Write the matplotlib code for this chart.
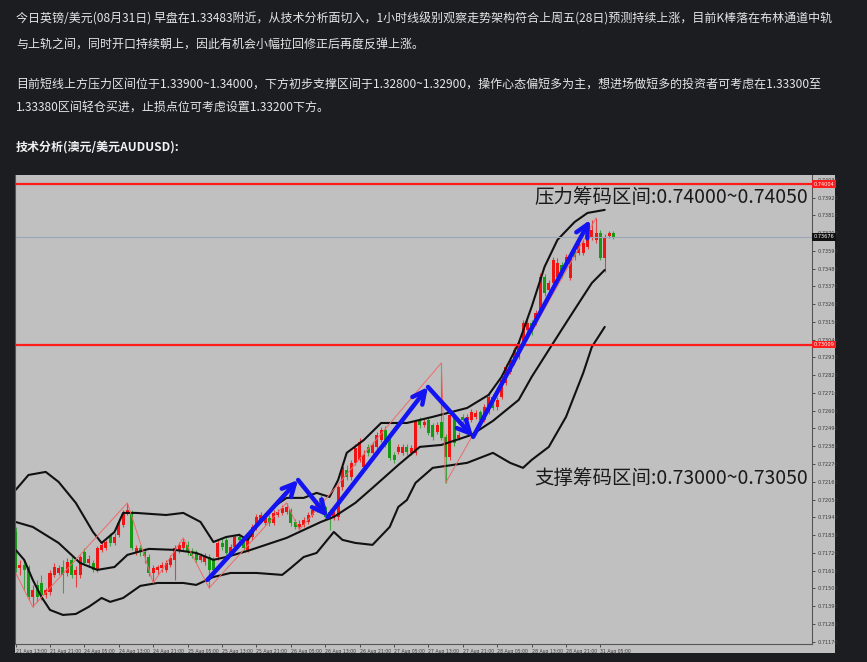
import matplotlib
matplotlib.use("Agg")
import matplotlib.pyplot as plt
import matplotlib.transforms as mtrans
import numpy as np

# page text above the screenshot
para_lines = [
    "今日英镑/美元(08月31日) 早盘在1.33483附近，从技术分析面切入，1小时线级别观察走势架构符合上周五(28日)预测持续上涨，目前K棒落在布林通道中轨",
    "与上轨之间，同时开口持续朝上，因此有机会小幅拉回修正后再度反弹上涨。",
    "目前短线上方压力区间位于1.33900~1.34000，下方初步支撑区间于1.32800~1.32900，操作心态偏短多为主，想进场做短多的投资者可考虑在1.33300至",
    "1.33380区间轻仓买进，止损点位可考虑设置1.33200下方。",
]
title_line = "技术分析(澳元/美元AUDUSD):"

# AUDUSD H1 candles, 21 Aug 13:00 -> 31 Aug
opens = [0.71849, 0.71626, 0.71645, 0.71632, 0.71447, 0.71521, 0.71533, 0.71459, 0.71478, 0.71583,
         0.71595, 0.71632, 0.71595, 0.71676, 0.71583, 0.71583, 0.71725, 0.71657, 0.71657, 0.71614,
         0.71738, 0.71750, 0.71831, 0.71781, 0.71831, 0.71893, 0.71967, 0.71973, 0.71719, 0.71750,
         0.71725, 0.71694, 0.71595, 0.71614, 0.71626, 0.71614, 0.71645, 0.71676, 0.71738, 0.71750,
         0.71769, 0.71725, 0.71719, 0.71676, 0.71663, 0.71694, 0.71676, 0.71694, 0.71781, 0.71800,
         0.71719, 0.71756, 0.71818, 0.71800, 0.71738, 0.71818, 0.71880, 0.71924, 0.71905, 0.71936,
         0.71905, 0.71954, 0.71967, 0.71973, 0.71985, 0.71911, 0.71880, 0.71893, 0.71911, 0.71954,
         0.71985, 0.72060, 0.72004, 0.71973, 0.71942, 0.71942, 0.72128, 0.72233, 0.72190, 0.72277,
         0.72295, 0.72252, 0.72376, 0.72339, 0.72376, 0.72419, 0.72481, 0.72431, 0.72326, 0.72345,
         0.72339, 0.72376, 0.72339, 0.72339, 0.72543, 0.72512, 0.72543, 0.72512, 0.72469, 0.72531,
         0.72438, 0.72314, 0.72562, 0.72431, 0.72562, 0.72543, 0.72543, 0.72562, 0.72592, 0.72543,
         0.72592, 0.72685, 0.72623, 0.72685, 0.72772, 0.72840, 0.72896, 0.72933, 0.73020, 0.73100,
         0.73144, 0.73144, 0.73224, 0.73429, 0.73348, 0.73391, 0.73429, 0.73503, 0.73515, 0.73422,
         0.73596, 0.73577, 0.73577, 0.73614, 0.73676, 0.73658, 0.73701, 0.73546, 0.73683, 0.73701]
closes = [0.71626, 0.71645, 0.71614, 0.71447, 0.71490, 0.71447, 0.71459, 0.71490, 0.71595, 0.71632,
          0.71626, 0.71583, 0.71663, 0.71583, 0.71614, 0.71694, 0.71657, 0.71682, 0.71614, 0.71750,
          0.71769, 0.71787, 0.71781, 0.71818, 0.71905, 0.71967, 0.71985, 0.71750, 0.71750, 0.71725,
          0.71701, 0.71595, 0.71626, 0.71632, 0.71645, 0.71657, 0.71688, 0.71750, 0.71769, 0.71787,
          0.71725, 0.71701, 0.71676, 0.71701, 0.71694, 0.71614, 0.71614, 0.71781, 0.71756, 0.71719,
          0.71756, 0.71818, 0.71800, 0.71750, 0.71818, 0.71880, 0.71942, 0.71954, 0.71936, 0.71905,
          0.71967, 0.71973, 0.71998, 0.72004, 0.71905, 0.71880, 0.71899, 0.71924, 0.71954, 0.71985,
          0.72016, 0.72004, 0.71942, 0.71942, 0.71973, 0.72128, 0.72252, 0.72190, 0.72277, 0.72369,
          0.72407, 0.72326, 0.72339, 0.72388, 0.72450, 0.72481, 0.72388, 0.72308, 0.72295, 0.72376,
          0.72376, 0.72345, 0.72369, 0.72531, 0.72512, 0.72531, 0.72462, 0.72438, 0.72512, 0.72431,
          0.72314, 0.72574, 0.72400, 0.72450, 0.72543, 0.72562, 0.72592, 0.72586, 0.72543, 0.72623,
          0.72685, 0.72617, 0.72667, 0.72791, 0.72871, 0.72915, 0.72977, 0.73020, 0.73144, 0.73144,
          0.73100, 0.73206, 0.73429, 0.73330, 0.73391, 0.73534, 0.73515, 0.73441, 0.73553, 0.73553,
          0.73553, 0.73658, 0.73639, 0.73676, 0.73720, 0.73701, 0.73546, 0.73676, 0.73701, 0.73676]
highs = [0.71880, 0.71676, 0.71676, 0.71645, 0.71521, 0.71552, 0.71583, 0.71502, 0.71614, 0.71657,
         0.71645, 0.71676, 0.71688, 0.71701, 0.71639, 0.71707, 0.71750, 0.71707, 0.71676, 0.71762,
         0.71787, 0.71800, 0.71843, 0.71843, 0.71924, 0.71985, 0.72029, 0.71985, 0.71769, 0.71769,
         0.71750, 0.71713, 0.71645, 0.71645, 0.71663, 0.71676, 0.71707, 0.71769, 0.71787, 0.71812,
         0.71793, 0.71750, 0.71738, 0.71719, 0.71719, 0.71713, 0.71694, 0.71800, 0.71812, 0.71818,
         0.71775, 0.71837, 0.71843, 0.71818, 0.71837, 0.71899, 0.71961, 0.71973, 0.71954, 0.71954,
         0.71985, 0.71992, 0.72016, 0.72029, 0.71998, 0.71930, 0.71924, 0.71942, 0.71973, 0.72004,
         0.72047, 0.72078, 0.72016, 0.71992, 0.71998, 0.72140, 0.72277, 0.72264, 0.72295, 0.72394,
         0.72431, 0.72357, 0.72394, 0.72407, 0.72469, 0.72500, 0.72506, 0.72456, 0.72345, 0.72394,
         0.72394, 0.72394, 0.72388, 0.72543, 0.72562, 0.72549, 0.72562, 0.72524, 0.72531, 0.72896,
         0.72456, 0.72592, 0.72580, 0.72469, 0.72580, 0.72580, 0.72611, 0.72605, 0.72605, 0.72642,
         0.72704, 0.72704, 0.72685, 0.72809, 0.72890, 0.72933, 0.72995, 0.73038, 0.73162, 0.73162,
         0.73162, 0.73224, 0.73453, 0.73447, 0.73410, 0.73553, 0.73546, 0.73522, 0.73571, 0.73571,
         0.73614, 0.73676, 0.73658, 0.73695, 0.73782, 0.73794, 0.73720, 0.73695, 0.73714, 0.73714]
lows = [0.71601, 0.71583, 0.71490, 0.71428, 0.71385, 0.71416, 0.71428, 0.71440, 0.71459, 0.71570,
        0.71583, 0.71471, 0.71577, 0.71564, 0.71509, 0.71564, 0.71645, 0.71639, 0.71601, 0.71601,
        0.71725, 0.71738, 0.71762, 0.71769, 0.71818, 0.71880, 0.71954, 0.71738, 0.71707, 0.71701,
        0.71657, 0.71577, 0.71533, 0.71589, 0.71601, 0.71601, 0.71632, 0.71552, 0.71719, 0.71738,
        0.71707, 0.71688, 0.71657, 0.71663, 0.71645, 0.71502, 0.71589, 0.71676, 0.71738, 0.71701,
        0.71701, 0.71738, 0.71781, 0.71725, 0.71725, 0.71800, 0.71862, 0.71911, 0.71893, 0.71886,
        0.71893, 0.71942, 0.71954, 0.71961, 0.71886, 0.71868, 0.71862, 0.71880, 0.71899, 0.71942,
        0.71973, 0.71992, 0.71930, 0.71862, 0.71924, 0.71924, 0.72109, 0.72171, 0.72171, 0.72264,
        0.72283, 0.72233, 0.72320, 0.72320, 0.72363, 0.72407, 0.72376, 0.72295, 0.72277, 0.72332,
        0.72326, 0.72326, 0.72326, 0.72326, 0.72493, 0.72500, 0.72450, 0.72419, 0.72456, 0.72419,
        0.72153, 0.72295, 0.72382, 0.72419, 0.72524, 0.72531, 0.72531, 0.72549, 0.72531, 0.72531,
        0.72580, 0.72605, 0.72605, 0.72673, 0.72760, 0.72828, 0.72884, 0.72921, 0.73007, 0.73038,
        0.73069, 0.73131, 0.73212, 0.73311, 0.73330, 0.73379, 0.73410, 0.73422, 0.73497, 0.73410,
        0.73534, 0.73565, 0.73565, 0.73602, 0.73658, 0.73639, 0.73534, 0.73460, 0.73670, 0.73664]

time_labels = ["21 Aug 13:00", "21 Aug 21:00", "24 Aug 05:00", "24 Aug 13:00", "24 Aug 21:00",
               "25 Aug 05:00", "25 Aug 13:00", "25 Aug 21:00", "26 Aug 05:00", "26 Aug 13:00",
               "26 Aug 21:00", "27 Aug 05:00", "27 Aug 13:00", "27 Aug 21:00", "28 Aug 05:00",
               "28 Aug 13:00", "28 Aug 21:00", "31 Aug 05:00"]

# Bollinger bands (bar index, price)
upper_idx = [0, 3, 7, 10, 14, 18, 20, 23, 25, 28, 35, 39, 43, 46, 49, 52, 54, 57, 60, 63,
             67, 70, 73, 75, 77, 81, 85, 91, 97, 105, 110, 113, 117, 120, 123, 126, 130, 133, 137]
upper_px = [0.72109, 0.72202, 0.72221, 0.72159, 0.72029, 0.71849, 0.71781, 0.71849, 0.71967, 0.71967,
            0.71954, 0.71967, 0.71911, 0.71787, 0.71818, 0.71831, 0.71800, 0.71924, 0.72004, 0.72060,
            0.72060, 0.72091, 0.72066, 0.72171, 0.72339, 0.72419, 0.72524, 0.72524, 0.72562, 0.72617,
            0.72698, 0.72809, 0.73020, 0.73243, 0.73491, 0.73658, 0.73769, 0.73825, 0.73844]
mid_idx = [0, 4, 10, 15, 19, 23, 26, 31, 37, 42, 46, 49, 54, 63, 71, 74, 79, 83, 89, 94,
           99, 106, 111, 117, 120, 124, 128, 131, 134, 137]
mid_px = [0.71911, 0.71880, 0.71781, 0.71657, 0.71614, 0.71632, 0.71707, 0.71744, 0.71738, 0.71719,
          0.71676, 0.71694, 0.71732, 0.71812, 0.71911, 0.71942, 0.72029, 0.72122, 0.72264, 0.72376,
          0.72388, 0.72450, 0.72537, 0.72667, 0.72809, 0.72977, 0.73144, 0.73268, 0.73391, 0.73472]
low_idx = [0, 2, 4, 6, 8, 11, 14, 17, 20, 22, 25, 29, 33, 39, 42, 46, 50, 56, 62, 64,
           67, 70, 74, 76, 79, 83, 87, 89, 91, 93, 97, 105, 111, 115, 118, 120, 124, 128, 132, 134, 137]
low_px = [0.71738, 0.71676, 0.71552, 0.71447, 0.71366, 0.71335, 0.71341, 0.71385, 0.71440, 0.71416,
          0.71440, 0.71515, 0.71533, 0.71533, 0.71521, 0.71570, 0.71595, 0.71595, 0.71583, 0.71626,
          0.71694, 0.71719, 0.71849, 0.71800, 0.71781, 0.71769, 0.71880, 0.72004, 0.72047, 0.72153,
          0.72246, 0.72277, 0.72339, 0.72277, 0.72246, 0.72295, 0.72376, 0.72562, 0.72834, 0.72995, 0.73119]

# zigzag indicator
zigzag_idx = [0, 4, 26, 32, 39, 45, 63, 66, 99, 100, 135]
zigzag_px = [0.71595, 0.71385, 0.72029, 0.71533, 0.71812, 0.71502, 0.72029, 0.71862, 0.72896, 0.72153, 0.73794]

# hand-drawn blue arrows
arrow_idx = [44.6, 65.7, 72.6, 95.9, 106.4, 133.6]
arrow_px = [0.71552, 0.72171, 0.71942, 0.72747, 0.72438, 0.73782]

resist_line = 0.74004
support_line = 0.73009
resist_text = "压力筹码区间:0.74000~0.74050"
support_text = "支撑筹码区间:0.73000~0.73050"

W, H = 867, 662
fig = plt.figure(figsize=(W / 100, H / 100), dpi=100, facecolor="#1c1d21")


def fx(px):
    return px / W


def fy(py):
    return 1 - py / H


cjk = ["Noto Sans CJK SC", "DejaVu Sans"]
for txt, y in zip(para_lines, [19, 44, 84, 108]):
    fig.text(fx(16), fy(y), txt, color="#e6e6e6", fontsize=8.62, family=cjk, va="center")
fig.text(fx(16), fy(147), title_line, color="#f2f2f2", fontsize=8.62, family=cjk,
         weight="bold", va="center")

# screenshot background
bg = fig.add_axes([fx(15), fy(653), fx(835) - fx(15), fy(175) - fy(653)])
bg.set_facecolor("#c0c0c0")
bg.set_xticks([])
bg.set_yticks([])
for s in bg.spines.values():
    s.set_visible(False)

ax = fig.add_axes([fx(15), fy(644), fx(812) - fx(15), fy(175) - fy(644)])
ax.set_facecolor("none")

o, h, l, c = map(np.array, (opens, highs, lows, closes))
x = np.arange(len(o))
col = np.where(c >= o, "#f01414", "#169a16")
ax.vlines(x, l, h, colors=col, lw=0.8, alpha=0.75)
ax.bar(x, np.maximum(np.abs(c - o), 0.00004), bottom=np.minimum(o, c), width=0.7,
       color=col, lw=0)

for bx, by in [(upper_idx, upper_px), (mid_idx, mid_px), (low_idx, low_px)]:
    ax.plot(bx, by, color="#111111", lw=1.5, solid_capstyle="round")

ax.plot(zigzag_idx, zigzag_px, color="#ee6a6a", lw=0.7)

for i in range(len(arrow_idx) - 1):
    ax.annotate("", xy=(arrow_idx[i + 1], arrow_px[i + 1]), xytext=(arrow_idx[i], arrow_px[i]),
                arrowprops=dict(arrowstyle="->,head_length=0.9,head_width=0.45",
                                color="#1414f2", lw=3.2, shrinkA=0, shrinkB=0))

ax.axhline(resist_line, color="#ff1c1c", lw=1.6)
ax.axhline(support_line, color="#ff1c1c", lw=1.6)
ax.axhline(closes[-1], color="#9ba6b8", lw=0.8)

tr = mtrans.blended_transform_factory(ax.transAxes, ax.transData)
for val, fc in [(resist_line, "#ff1c1c"), (support_line, "#ff1c1c"), (closes[-1], "#111111")]:
    ax.text(1.002, val, f"{val:.5f}", transform=tr, fontsize=3.6, color="white",
            va="center", ha="left", bbox=dict(boxstyle="square,pad=0.25", fc=fc, ec="none"))

ax.text(0.995, 0.953, resist_text, transform=ax.transAxes, ha="right", va="center",
        fontsize=14, family=cjk, color="#1a1a1a")
ax.text(0.995, 0.352, support_text, transform=ax.transAxes, ha="right", va="center",
        fontsize=14, family=cjk, color="#1a1a1a")

ax.set_xlim(-0.14, 185.2)
ax.set_ylim(0.71155, 0.74060)

yt = 0.71170 + 0.0011 * np.arange(27)
ax.yaxis.tick_right()
ax.set_yticks(yt)
ax.set_yticklabels([f"{v:.5f}" for v in yt])
ax.set_xticks(np.arange(0, 8 * len(time_labels), 8))
ax.set_xticklabels(time_labels, ha="left")
ax.tick_params(axis="y", labelsize=3.6, colors="#3a3a3a", length=2.5, width=0.6, pad=1.2)
ax.tick_params(axis="x", labelsize=3.3, colors="#3a3a3a", length=2.5, width=0.6, pad=1.0)

ax.spines["top"].set_visible(False)
for s in ["left", "right", "bottom"]:
    ax.spines[s].set_color("#555555")
    ax.spines[s].set_linewidth(0.8)

fig.savefig("out.png", dpi=100, facecolor=fig.get_facecolor())
